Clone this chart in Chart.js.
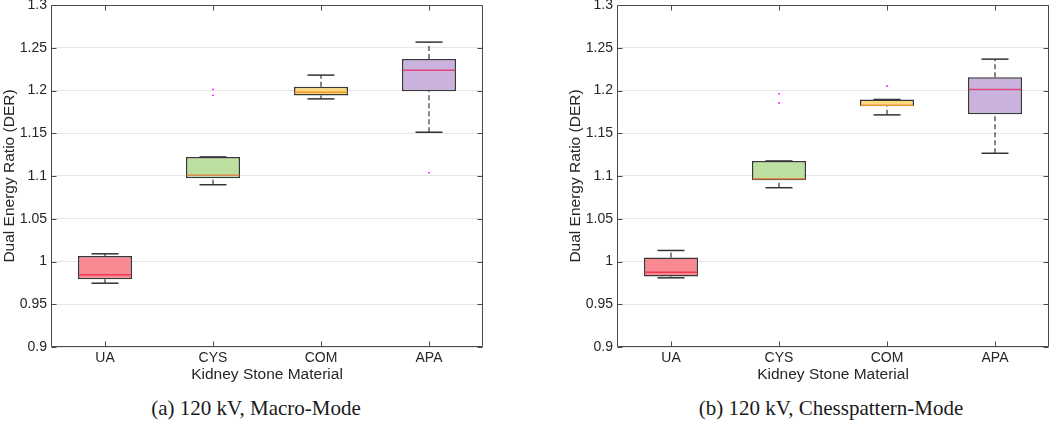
<!DOCTYPE html>
<html><head><meta charset="utf-8">
<script src="https://cdn.jsdelivr.net/npm/chart.js@4.4.1/dist/chart.umd.min.js"></script>
<style>
html,body{margin:0;padding:0;background:#fff;width:1050px;height:432px;overflow:hidden;}
.panel{position:absolute;top:0;width:484px;height:390px;}
.cap{position:absolute;top:396px;font-family:'Liberation Serif','DejaVu Serif',serif;font-size:21px;color:#1a1a1a;white-space:nowrap;transform:translateX(-50%);}
</style></head><body>
<div class="panel" style="left:0px"><canvas id="c1" width="484" height="390"></canvas></div>
<div class="panel" style="left:566px"><canvas id="c2" width="484" height="390"></canvas></div>
<div class="cap" style="left:256px">(a) 120 kV, Macro-Mode</div>
<div class="cap" style="left:831px">(b) 120 kV, Chesspattern-Mode</div>
<script>
// ---- data ----
const categories = ['UA', 'CYS', 'COM', 'APA'];
const yTicks = [0.9, 0.95, 1, 1.05, 1.1, 1.15, 1.2, 1.25, 1.3];

// (a) Macro-Mode
const macroLowerWhisker = [0.9746, 1.0898, 1.1902, 1.1512];
const macroQ1           = [0.9793, 1.0973, 1.1941, 1.1992];
const macroMedian       = [0.9844, 1.1008, 1.1980, 1.2238];
const macroQ3           = [1.0063, 1.1223, 1.2043, 1.2367];
const macroUpperWhisker = [1.0090, 1.1223, 1.2180, 1.2566];
const macroOutlierCat   = ['CYS', 'CYS', 'APA'];
const macroOutlierVal   = [1.2012, 1.1945, 1.1039];

// (b) Chesspattern-Mode
const chessLowerWhisker = [0.9809, 1.0863, 1.1715, 1.1266];
const chessQ1           = [0.9824, 1.0949, 1.1816, 1.1723];
const chessMedian       = [0.9875, 1.0969, 1.1828, 1.2012];
const chessQ3           = [1.0047, 1.1176, 1.1895, 1.2156];
const chessUpperWhisker = [1.0129, 1.1176, 1.1895, 1.2367];
const chessOutlierCat   = ['CYS', 'CYS', 'COM'];
const chessOutlierVal   = [1.1961, 1.1855, 1.2051];

// ---- styles ----
const boxFill = ['#f98a93', '#bde0a0', '#fcd87e', '#c9b3de'];
const medianColor = ['#ee3b50', '#dc8a48', '#f0962e', '#e0457b'];
const FONT = "'Liberation Sans', Arial, Helvetica, sans-serif";
const TXT = '#262626';

const framePlugin = {
  id: 'frame',
  afterDatasetsDraw(chart) {
    const ctx = chart.ctx;
    const {left, right, top, bottom} = chart.chartArea;
    const x = chart.scales.x, y = chart.scales.y;
    ctx.save();
    ctx.strokeStyle = '#4a4a4a';
    ctx.lineWidth = 1;
    const L = Math.round(left) + 0.5, R = Math.round(right) - 0.5;
    const T = Math.round(top) + 0.5, B = Math.round(bottom) - 0.5;
    ctx.beginPath();
    ctx.rect(L, T, R - L, B - T);
    const tl = 5;
    x.ticks.forEach((t, i) => {
      const px = Math.round(x.getPixelForTick(i)) + 0.5;
      ctx.moveTo(px, B); ctx.lineTo(px, B - tl);
      ctx.moveTo(px, T); ctx.lineTo(px, T + tl);
    });
    y.ticks.forEach((t, i) => {
      const py = Math.round(y.getPixelForTick(i)) + 0.5;
      ctx.moveTo(L, py); ctx.lineTo(L + tl, py);
      ctx.moveTo(R, py); ctx.lineTo(R - tl, py);
    });
    ctx.stroke();
    ctx.restore();
  }
};

function makeChart(id, lw, q1, med, q3, uw, oCat, oVal) {
  const whiskerData = [];
  categories.forEach((c, i) => {
    whiskerData.push({x: c, y: q3[i]}, {x: c, y: uw[i]}, {x: c, y: null});
    whiskerData.push({x: c, y: lw[i]}, {x: c, y: q1[i]}, {x: c, y: null});
  });
  const capData = [];
  categories.forEach((c, i) => {
    capData.push({x: c, y: lw[i]}, {x: c, y: uw[i]});
  });
  const medData = categories.map((c, i) => ({x: c, y: med[i]}));
  const outData = oCat.map((c, i) => ({x: c, y: oVal[i]}));

  return new Chart(document.getElementById(id), {
    type: 'bar',
    data: {
      labels: categories,
      datasets: [
        {
          type: 'bar', label: 'box',
          data: categories.map((c, i) => [q1[i], q3[i]]),
          backgroundColor: boxFill, borderColor: '#383838', borderWidth: 1.5,
          borderSkipped: false, barPercentage: 0.5, categoryPercentage: 1, order: 3
        },
        {
          type: 'line', label: 'whiskers', data: whiskerData,
          borderColor: '#333', borderWidth: 1.2, borderDash: [5, 3],
          pointRadius: 0, spanGaps: false, fill: false, order: 4
        },
        {
          type: 'line', label: 'caps', data: capData, showLine: false,
          pointStyle: 'line', pointRadius: 13.5, pointBorderWidth: 1.5,
          pointBorderColor: '#333', order: 2
        },
        {
          type: 'line', label: 'median', data: medData, showLine: false,
          pointStyle: 'line', pointRadius: 26.3, pointBorderWidth: 1.5,
          pointBorderColor: medianColor, order: 1
        },
        {
          type: 'line', label: 'outliers', data: outData, showLine: false,
          pointStyle: 'rect', pointRadius: 1.1, pointBorderWidth: 0,
          pointBackgroundColor: '#ff00ff', pointBorderColor: '#ff00ff', order: 0
        }
      ]
    },
    options: {
      responsive: false, animation: false, events: [],
      layout: {autoPadding: false, padding: {top: 5, right: 1, left: 0, bottom: 0}},
      plugins: {legend: {display: false}, tooltip: {enabled: false}},
      scales: {
        x: {
          offset: true,
          grid: {display: false, drawTicks: false},
          border: {display: false},
          ticks: {color: TXT, font: {family: FONT, size: 14}, padding: 3, maxRotation: 0},
          title: {display: true, text: 'Kidney Stone Material', color: TXT,
                  font: {family: FONT, size: 15.5}, padding: {top: 0, bottom: 6}},
          afterFit(s) { s.height = 43; s.paddingLeft = 0; s.paddingRight = 0; }
        },
        y: {
          min: 0.9, max: 1.3,
          afterBuildTicks(s) { s.ticks = yTicks.map(v => ({value: v})); },
          grid: {color: '#e6e6e6', lineWidth: 1, drawTicks: false},
          border: {display: false},
          ticks: {color: TXT, font: {family: FONT, size: 14}, padding: 4,
                  callback: v => String(Number(v.toFixed(2)))},
          title: {display: true, text: 'Dual Energy Ratio (DER)', color: TXT,
                  font: {family: FONT, size: 15.5}, padding: {top: 0, bottom: 0}},
          afterFit(s) { s.width = 51; s.paddingTop = 0; s.paddingBottom = 0; }
        }
      }
    },
    plugins: [framePlugin]
  });
}

makeChart('c1', macroLowerWhisker, macroQ1, macroMedian, macroQ3, macroUpperWhisker, macroOutlierCat, macroOutlierVal);
makeChart('c2', chessLowerWhisker, chessQ1, chessMedian, chessQ3, chessUpperWhisker, chessOutlierCat, chessOutlierVal);
</script>
</body></html>
